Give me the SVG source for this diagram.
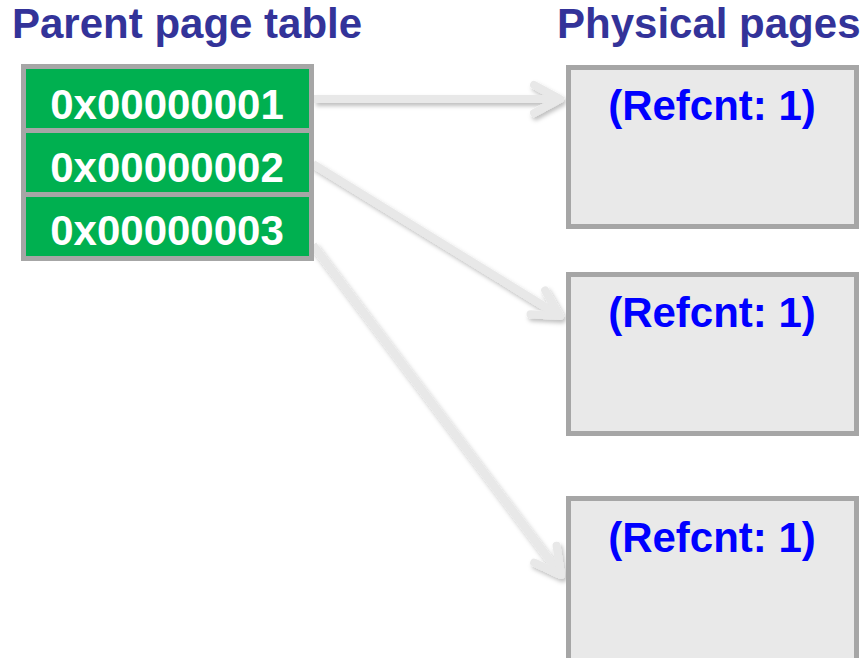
<svg xmlns="http://www.w3.org/2000/svg" width="865" height="658" viewBox="0 0 865 658">
<style>
.title{font-family:"Liberation Sans",Arial,sans-serif;font-weight:bold;font-size:42px;fill:#333399}
.row{fill:#00b050;stroke:#a6a6a6;stroke-width:5}
.rowtxt{font-family:"Liberation Sans",Arial,sans-serif;font-weight:bold;font-size:42px;fill:#ffffff;text-anchor:middle}
.page{fill:#e9e9e9;stroke:#a6a6a6;stroke-width:5}
.ref{font-family:"Liberation Sans",Arial,sans-serif;font-weight:bold;font-size:42px;fill:#0000ff;text-anchor:middle}
.conn{fill:none;stroke:#e8e8e8;stroke-width:8;stroke-linecap:butt}
</style>
<defs>
<filter id="sh" x="-10%" y="-10%" width="130%" height="130%">
<feDropShadow dx="2" dy="3" stdDeviation="2" flood-color="#000" flood-opacity="0.25"/>
</filter>
<marker id="arr" markerUnits="userSpaceOnUse" orient="auto" markerWidth="40" markerHeight="40" refX="0" refY="0" viewBox="-34 -20 40 40" overflow="visible">
<path d="M-26,-14 L0,0 L-26,14" fill="none" stroke="#e8e8e8" stroke-width="8" stroke-linecap="round" stroke-linejoin="round"/>
</marker>
</defs>
<rect width="865" height="658" fill="#ffffff"/>
<text class="title" x="12" y="38">Parent page table</text>
<text class="title" x="557" y="38">Physical pages</text>
<g id="connectors" filter="url(#sh)">
<line class="conn" x1="314" y1="99" x2="560" y2="99" marker-end="url(#arr)"/>
<line class="conn" x1="313" y1="164" x2="560" y2="316" marker-end="url(#arr)"/>
<line class="conn" x1="313" y1="245" x2="561" y2="575" marker-end="url(#arr)"/>
</g>
<g id="table">
<g id="row1"><rect class="row" x="23.5" y="66.5" width="288" height="64"/><text class="rowtxt" x="167" y="119">0x00000001</text></g>
<g id="row2"><rect class="row" x="23.5" y="130.5" width="288" height="64"/><text class="rowtxt" x="167" y="182">0x00000002</text></g>
<g id="row3"><rect class="row" x="23.5" y="194.5" width="288" height="64"/><text class="rowtxt" x="167" y="245">0x00000003</text></g>
</g>
<g id="page1"><rect class="page" x="568.5" y="67.5" width="288" height="159"/><text class="ref" x="712" y="120">(Refcnt: 1)</text></g>
<g id="page2"><rect class="page" x="568.5" y="274.5" width="288" height="159"/><text class="ref" x="712" y="327">(Refcnt: 1)</text></g>
<g id="page3"><rect class="page" x="568.5" y="498.5" width="288" height="170"/><text class="ref" x="712" y="552">(Refcnt: 1)</text></g>
</svg>
